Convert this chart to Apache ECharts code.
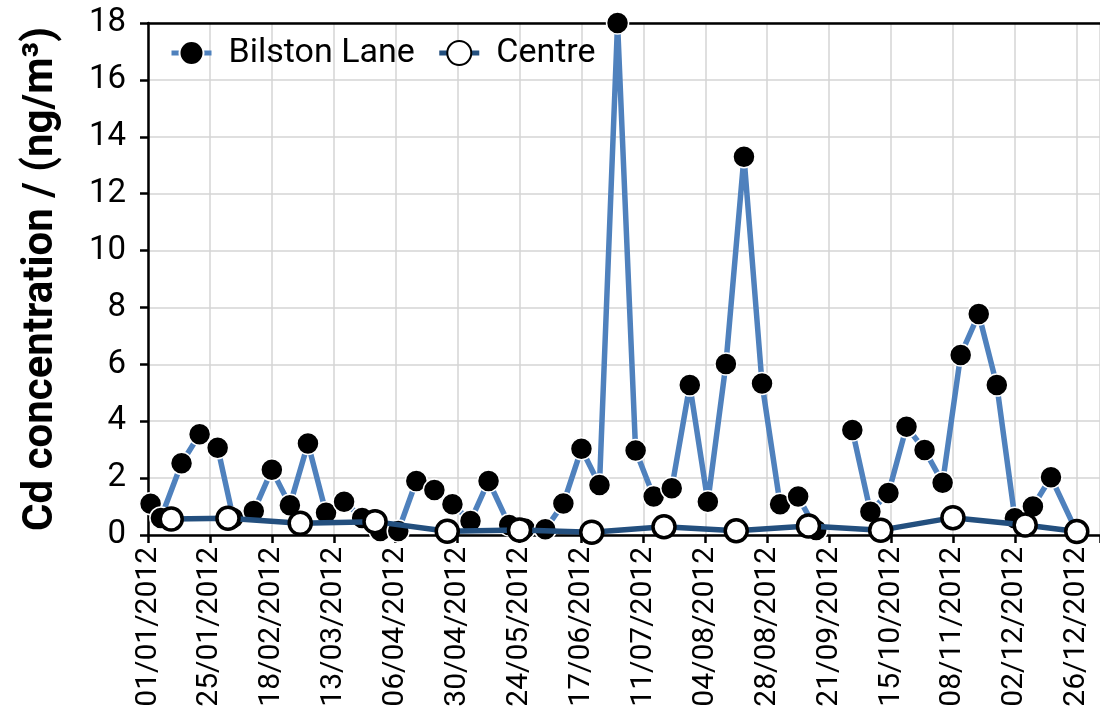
<!DOCTYPE html>
<html>
<head>
<meta charset="utf-8">
<title>Cd concentration 2012</title>
<script src="https://cdn.jsdelivr.net/npm/echarts@6/dist/echarts.min.js"></script>
<style>
  html, body { margin: 0; padding: 0; background: #fff; }
  #chart { width: 1100px; height: 713px; }
</style>
</head>
<body>
<div id="chart"></div>
<script>
// Weekly samples at Bilston Lane (null = no sample that week)
const bilstonDates = [
  '2012-01-02','2012-01-06','2012-01-14','2012-01-21','2012-01-28','2012-02-03',
  '2012-02-11','2012-02-18','2012-02-25','2012-03-03','2012-03-10','2012-03-17',
  '2012-03-24','2012-03-31','2012-04-07','2012-04-14','2012-04-21','2012-04-28',
  '2012-05-05','2012-05-12','2012-05-20','2012-05-26','2012-06-03','2012-06-10',
  '2012-06-17','2012-06-24','2012-07-01','2012-07-08','2012-07-15','2012-07-22',
  '2012-07-29','2012-08-05','2012-08-12','2012-08-19','2012-08-26','2012-09-02',
  '2012-09-09','2012-09-16','2012-09-23','2012-09-30','2012-10-07','2012-10-14',
  '2012-10-21','2012-10-28','2012-11-04','2012-11-11','2012-11-18','2012-11-25',
  '2012-12-02','2012-12-09','2012-12-16','2012-12-26'
];
const bilstonValues = [
  1.1, 0.6, 2.52, 3.54, 3.07, 0.6,
  0.84, 2.29, 1.05, 3.22, 0.78, 1.17,
  0.6, 0.14, 0.14, 1.9, 1.58, 1.08,
  0.49, 1.9, 0.35, 0.23, 0.2, 1.11,
  3.03, 1.76, 18.0, 2.97, 1.35, 1.64,
  5.27, 1.17, 6.01, 13.3, 5.33, 1.08,
  1.35, 0.18, null, 3.69, 0.82, 1.48,
  3.81, 2.99, 1.84, 6.33, 7.77, 5.27,
  0.59, 1.0, 2.03, 0.1
];

// Four-weekly samples at the Centre site
const centreDates = [
  '2012-01-10','2012-02-01','2012-02-29','2012-03-29','2012-04-26','2012-05-24',
  '2012-06-21','2012-07-19','2012-08-16','2012-09-13','2012-10-11','2012-11-08',
  '2012-12-06','2012-12-26'
];
const centreValues = [
  0.56, 0.59, 0.41, 0.47, 0.13, 0.18,
  0.1, 0.29, 0.15, 0.32, 0.17, 0.61,
  0.35, 0.12
];

// Date-axis tick labels, one every 24 days from 01/01/2012
const xTickLabels = [
  '01/01/2012','25/01/2012','18/02/2012','13/03/2012','06/04/2012','30/04/2012',
  '24/05/2012','17/06/2012','11/07/2012','04/08/2012','28/08/2012','21/09/2012',
  '15/10/2012','08/11/2012','02/12/2012','26/12/2012'
];

const DAY = 86400000;
const origin = Date.UTC(2012, 0, 1);
function dayOffset(iso) {
  const p = iso.split('-').map(Number);
  return (Date.UTC(p[0], p[1] - 1, p[2]) - origin) / DAY;
}
function pairs(dates, values) {
  return dates.map((d, i) => [dayOffset(d), values[i]]);
}

const FONT = 'Roboto, "Liberation Sans", sans-serif';
const AXIS_LINE = { color: '#000', width: 2.5 };
const chart = echarts.init(document.getElementById('chart'), null, { renderer: 'canvas' });

chart.setOption({
  animation: false,
  backgroundColor: '#fff',
  grid: { left: 148, top: 23, right: 0, height: 512 },
  legend: {
    left: 164, top: 31,
    itemWidth: 40, itemHeight: 30, itemGap: 22,
    lineStyle: { width: 5 },
    textStyle: { fontFamily: FONT, fontSize: 34, color: '#000', padding: [0, 0, 0, 12] },
    data: ['Bilston Lane', 'Centre']
  },
  xAxis: [
    {
      type: 'value', min: 0, max: 369, interval: 24,
      axisLine: { show: true, onZero: false, lineStyle: AXIS_LINE },
      axisTick: { show: true, length: 8, lineStyle: AXIS_LINE },
      axisLabel: {
        rotate: 90, margin: 12, fontFamily: FONT, fontSize: 30, color: '#000',
        formatter: v => (v % 24 === 0 && xTickLabels[v / 24]) ? xTickLabels[v / 24] : ''
      },
      splitLine: { show: true, lineStyle: { color: '#d4d4d4', width: 1.5 } }
    },
    {
      // plain black frame line along the top of the plot
      type: 'value', position: 'top', min: 0, max: 369,
      axisLine: { show: true, onZero: false, lineStyle: AXIS_LINE },
      axisTick: { show: false }, axisLabel: { show: false }, splitLine: { show: false }
    }
  ],
  yAxis: {
    type: 'value', min: 0, max: 18, interval: 2,
    name: 'Cd concentration / (ng/m³)',
    nameLocation: 'middle', nameGap: 86,
    nameTextStyle: { fontFamily: FONT, fontSize: 42, fontWeight: 'bold', color: '#000' },
    axisLine: { show: true, lineStyle: AXIS_LINE },
    axisTick: { show: true, length: 8, lineStyle: AXIS_LINE },
    axisLabel: { margin: 22, fontFamily: FONT, fontSize: 33, color: '#000' },
    splitLine: { show: true, lineStyle: { color: '#d4d4d4', width: 1.5 } }
  },
  series: [
    {
      name: 'Bilston Lane',
      type: 'line',
      data: pairs(bilstonDates, bilstonValues),
      connectNulls: false,
      clip: false,
      symbol: 'circle', symbolSize: 22,
      itemStyle: { color: '#000', borderColor: '#fff', borderWidth: 1.5 },
      lineStyle: { color: '#4f81bd', width: 5.5 },
      z: 2
    },
    {
      name: 'Centre',
      type: 'line',
      data: pairs(centreDates, centreValues),
      clip: false,
      symbol: 'circle', symbolSize: 22,
      itemStyle: { color: '#fff', borderColor: '#000', borderWidth: 3.5 },
      lineStyle: { color: '#234f7e', width: 5.5 },
      z: 3
    }
  ]
});
</script>
</body>
</html>
